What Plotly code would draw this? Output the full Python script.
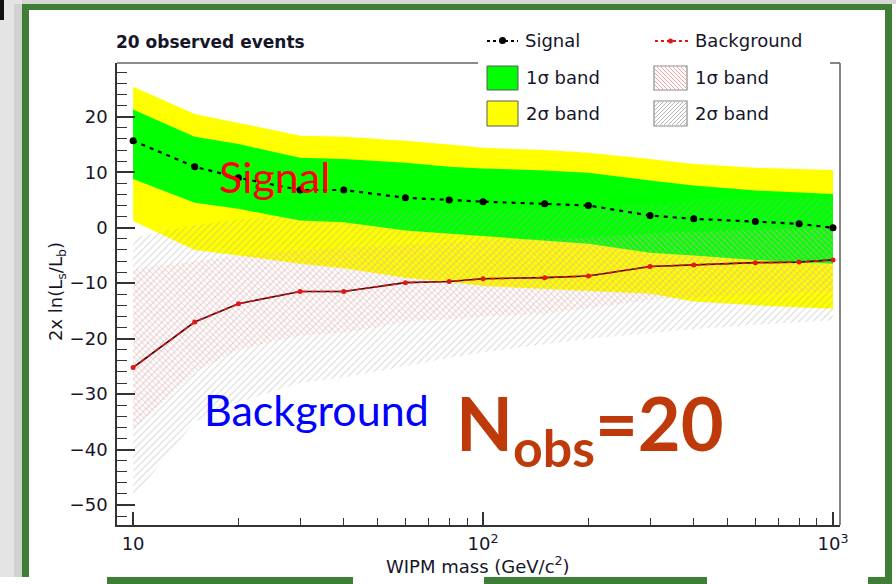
import plotly.graph_objects as go

# ---------------------------------------------------------------- data
mass = [10, 15, 20, 30, 40, 60, 80, 100, 150, 200, 300, 400, 600, 800, 1000]

signal = [15.7, 11.0, 9.0, 6.8, 6.8, 5.4, 5.0, 4.7, 4.3, 4.0, 2.2, 1.6, 1.1, 0.7, 0.0]
background = [-25.2, -17.0, -13.7, -11.5, -11.5, -9.9, -9.7, -9.2, -9.0, -8.7,
              -7.0, -6.7, -6.3, -6.2, -5.8]

sig_2s_hi = [25.4, 20.5, 18.9, 16.6, 16.4, 15.7, 15.0, 14.4, 14.0, 13.5, 12.4, 11.5, 10.8, 10.6, 10.4]
sig_1s_hi = [21.3, 16.4, 15.1, 12.6, 12.4, 11.7, 11.0, 10.7, 10.3, 9.9, 8.5, 7.6, 6.7, 6.4, 6.1]
sig_1s_lo = [8.8, 4.5, 3.4, 1.3, 1.0, -0.5, -1.1, -1.5, -2.3, -2.9, -4.5, -5.0, -5.8, -6.2, -6.5]
sig_2s_lo = [1.2, -4.0, -5.0, -6.5, -7.3, -9.0, -9.8, -10.5, -11.0, -11.4, -11.9, -13.3, -14.0, -14.3, -14.6]

bkg_2s_hi = [-1.8, 0.5, 1.5, 2.5, 3.0, 3.1, 3.1, 3.2, 3.4, 3.6, 4.2, 4.8, 5.2, 5.4, 5.5]
bkg_1s_hi = [-7.5, -6.0, -5.0, -4.0, -3.6, -3.0, -2.6, -2.3, -2.0, -1.8, -1.0, -0.7, -0.4, -0.2, 0.0]
bkg_1s_lo = [-36.5, -26.0, -22.0, -19.5, -19.0, -17.0, -16.5, -16.0, -15.5, -14.5,
             -13.0, -12.5, -12.0, -11.7, -11.5]
bkg_2s_lo = [-48.6, -35.0, -31.5, -28.0, -27.0, -25.0, -23.5, -22.5, -21.0, -20.0,
             -19.0, -18.3, -17.5, -17.0, -16.7]

y_ticks = [-50, -40, -30, -20, -10, 0, 10, 20]
x_ticks = [10, 100, 1000]
x_ticktext = ["10", "10<sup>2</sup>", "10<sup>3</sup>"]
x_minor = [20, 30, 40, 50, 60, 70, 80, 90, 200, 300, 400, 500, 600, 700, 800, 900]

# ---------------------------------------------------------------- page geometry
W, H = 896, 584
L, R, T, B = 117, 840, 63, 525          # frame of the plotting area (pixels)


def px(x):
    return (x - L) / (R - L)


def py(y):
    return (B - y) / (B - T)


TXT = "#16162a"
FONT = "DejaVu Sans"

fig = go.Figure()


def band(lo, hi, **kw):
    return go.Scatter(x=mass + mass[::-1], y=hi + lo[::-1], fill="toself",
                      mode="lines", line=dict(width=0), hoverinfo="skip",
                      showlegend=False, **kw)


# signal expectation bands
fig.add_trace(band(sig_2s_lo, sig_2s_hi, fillcolor="#ffff00"))
fig.add_trace(band(sig_1s_lo, sig_1s_hi, fillcolor="#00ff00"))
# background expectation bands (hatched)
fig.add_trace(band(bkg_2s_lo, bkg_2s_hi, fillcolor="rgba(0,0,0,0)",
                   fillpattern=dict(shape="/", fgcolor="#a8a8a8",
                                    bgcolor="rgba(0,0,0,0)", size=5, solidity=0.18)))
fig.add_trace(band(bkg_1s_lo, bkg_1s_hi, fillcolor="rgba(0,0,0,0)",
                   fillpattern=dict(shape="\\", fgcolor="#f4aaaa",
                                    bgcolor="rgba(0,0,0,0)", size=4, solidity=0.28)))

# background median
fig.add_trace(go.Scatter(x=mass, y=background, mode="lines",
                         line=dict(color="#3a0a0a", width=1.6),
                         hoverinfo="skip", showlegend=False))
fig.add_trace(go.Scatter(x=mass, y=background, mode="lines+markers",
                         line=dict(color="#e01818", width=1.6, dash="5px,4px"),
                         marker=dict(color="#e01818", size=5),
                         hoverinfo="skip", showlegend=False))
# signal median
fig.add_trace(go.Scatter(x=mass, y=signal, mode="lines+markers",
                         line=dict(color="black", width=2.2, dash="4px,5px"),
                         marker=dict(color="black", size=7),
                         hoverinfo="skip", showlegend=False))

shapes = []
annotations = []


def pline(x0, y0, x1, y1, color, width=1.5, dash=None):
    d = dict(type="line", xref="paper", yref="paper", x0=px(x0), y0=py(y0),
             x1=px(x1), y1=py(y1), line=dict(color=color, width=width), layer="above")
    if dash:
        d["line"]["dash"] = dash
    shapes.append(d)


def prect(x0, y0, x1, y1, fill, line="rgba(0,0,0,0)", width=0, layer="above"):
    shapes.append(dict(type="rect", xref="paper", yref="paper", x0=px(x0), y0=py(y1),
                       x1=px(x1), y1=py(y0), fillcolor=fill,
                       line=dict(color=line, width=width), layer=layer))


def hatch(x0, y0, x1, y1, color, step, forward=True):
    # diagonal hatch lines clipped to a square
    if forward:   # '/' on screen : x + y = c
        c = x0 + y0 + step
        while c < x1 + y1:
            xa, xb = max(x0, c - y1), min(x1, c - y0)
            pline(xa, c - xa, xb, c - xb, color, 1)
            c += step
    else:         # '\' on screen : x - y = c
        c = x0 - y1 + step
        while c < x1 - y0:
            xa, xb = max(x0, c + y0), min(x1, c + y1)
            pline(xa, xa - c, xb, xb - c, color, 1)
            c += step


def text(x, y, s, size=18, color=TXT, family=FONT, xanchor="left", angle=0):
    annotations.append(dict(x=px(x), y=py(y), xref="paper", yref="paper", text=s,
                            showarrow=False, xanchor=xanchor, yanchor="middle",
                            textangle=angle,
                            font=dict(size=size, color=color, family=family)))


# ---- slide frame
prect(0, 0, W, 4, "#d6d6d6", layer="below")
prect(0, 0, 22, 577, "#e4e4e4", layer="below")
prect(14, 4, 22, 577, "#d2d2d2", layer="below")
prect(0, 0, 4, 20, "#111111", layer="below")
GREEN = "#3f7e37"
prect(22, 4, 891, 10, GREEN)
prect(22, 4, 29, 577, GREEN)
prect(885, 4, 892, 577, GREEN)
prect(107, 577, 353, 584, GREEN)
prect(484, 577, 707, 584, GREEN)
prect(868, 577, 892, 584, GREEN)

# ---- plot frame (top edge is interrupted by the legend)
pline(L, T, 478, T, "#666666", 1.6)
pline(830, T, R, T, "#666666", 1.6)
pline(R, T, R, B, "#666666", 1.6)

# ---- legend
pline(487, 41, 518, 41, "black", 2, "3px,3px")
shapes.append(dict(type="circle", xref="paper", yref="paper", x0=px(499), y0=py(44),
                   x1=px(506), y1=py(37), fillcolor="black", line=dict(width=0),
                   layer="above"))
text(523, 41, "Signal")
pline(655, 41, 688, 41, "#e01818", 2, "3px,3px")
shapes.append(dict(type="circle", xref="paper", yref="paper", x0=px(668), y0=py(43.5),
                   x1=px(673), y1=py(38.5), fillcolor="#e01818", line=dict(width=0),
                   layer="above"))
text(693, 40, "Background")

prect(487, 66, 518, 90, "#00ff00", "#5a5a5a", 1)
text(524, 78, "1σ band")
prect(487, 101, 518, 126, "#ffff00", "#5a5a5a", 1)
text(524, 113, "2σ band")

prect(654, 66, 687, 90, "white", "#8a8a8a", 1.2)
hatch(655, 67, 686, 89, "#f4a4a4", 4, forward=False)
text(693, 78, "1σ band")
prect(654, 101, 687, 126, "white", "#8a8a8a", 1.2)
hatch(655, 102, 686, 125, "#b4b4b4", 4, forward=True)
text(693, 113, "2σ band")

# ---- titles
text(114, 42, "<b>20 observed events</b>", size=17)
text(478, 565, "WIPM mass (GeV/c<sup>2</sup>)", size=18, xanchor="center")
text(57, 292, "2x ln(L<sub>s</sub>/L<sub>b</sub>)", size=18, xanchor="center", angle=-90)

# ---- slide labels
text(274, 176, "Signal", size=43, color="#ff0000", family="Lato", xanchor="center")
text(316, 409, "Background", size=43, color="#0000ff", family="Lato", xanchor="center")
text(590, 428, "<b>N<sub>obs</sub>=20</b>", size=74, color="#be3a0a", family="Lato",
     xanchor="center")

fig.update_layout(
    width=W, height=H, autosize=False,
    margin=dict(l=L, r=W - R, t=T, b=H - B, pad=0),
    paper_bgcolor="white", plot_bgcolor="white",
    showlegend=False,
    shapes=shapes, annotations=annotations,
    xaxis=dict(type="log", range=[0.954, 3.02], showgrid=False, zeroline=False,
               showline=True, linecolor="#333333", linewidth=1.6,
               tickmode="array", tickvals=x_ticks, ticktext=x_ticktext,
               ticks="inside", ticklen=13, tickwidth=1.5, tickcolor="#333333",
               ticklabelstandoff=2,
               tickfont=dict(family=FONT, size=18, color=TXT),
               minor=dict(tickmode="array", tickvals=x_minor, ticks="inside",
                          ticklen=7, tickwidth=1.3, tickcolor="#333333")),
    yaxis=dict(range=[-53.6, 29.7], showgrid=False, zeroline=False,
               showline=True, linecolor="#333333", linewidth=1.6,
               tickmode="array", tickvals=y_ticks,
               ticks="inside", ticklen=18, tickwidth=1.5, tickcolor="#333333",
               ticklabelstandoff=4,
               tickfont=dict(family=FONT, size=18, color=TXT),
               minor=dict(dtick=2, ticks="inside", ticklen=10, tickwidth=1.3,
                          tickcolor="#333333")),
)

fig.write_html("out.html")
